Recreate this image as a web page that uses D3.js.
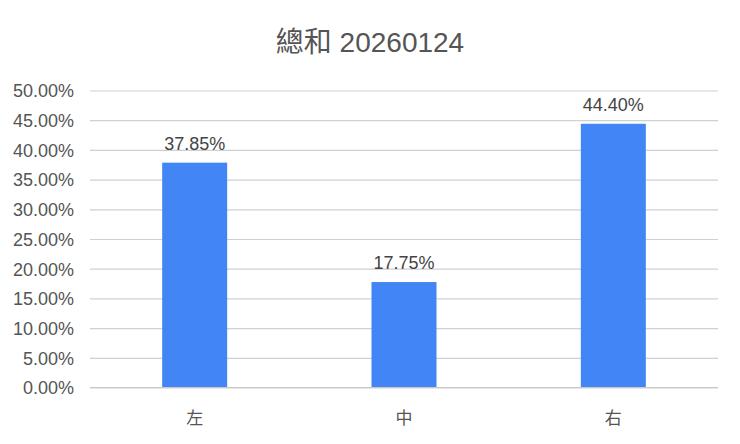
<!DOCTYPE html>
<html>
<head>
<meta charset="utf-8">
<script src="https://cdn.jsdelivr.net/npm/d3@7"></script>
<style>
html,body{margin:0;padding:0;background:#fff;}
text{font-family:"Liberation Sans",Arial,"Noto Sans CJK TC",sans-serif;}
</style>
</head>
<body>
<svg id="chart" width="740" height="444"></svg>
<script>
const title = "總和 20260124";
const categories = ["左", "中", "右"];
const values = [37.85, 17.75, 44.40];
const yTicks = [0, 5, 10, 15, 20, 25, 30, 35, 40, 45, 50];

const svg = d3.select("#chart");
const W = 740, H = 444;
const m = {left: 90, right: 22, top: 90.5, bottom: 56.5};

const x = d3.scaleBand().domain(categories).range([m.left, W - m.right])
  .paddingInner(1 - 65 / 209.33).paddingOuter((1 - 65 / 209.33) / 2);
const y = d3.scaleLinear().domain([0, 50]).range([H - m.bottom, m.top]);

svg.append("rect").attr("width", W).attr("height", H).attr("fill", "#fff");

svg.append("text").attr("x", 370).attr("y", 52).attr("text-anchor", "middle")
  .attr("font-size", 28).attr("fill", "#555")
  .style("font-family", "'Liberation Sans','Noto Sans CJK TC',sans-serif").text(title);

// grid
const grid = svg.append("g").attr("transform", `translate(${m.left},0)`)
  .call(d3.axisLeft(y).tickValues(yTicks).tickSize(-(W - m.left - m.right)).tickFormat(""));
grid.select(".domain").remove();
grid.selectAll("line").attr("stroke", "#d0d0d0").attr("stroke-width", 1.2);

// y labels
const yAxis = svg.append("g").attr("transform", `translate(74,0)`)
  .call(d3.axisLeft(y).tickValues(yTicks).tickSize(0).tickPadding(0).tickFormat(d => d.toFixed(2) + "%"));
yAxis.select(".domain").remove();
yAxis.selectAll("text").attr("font-size", 18).attr("fill", "#555").attr("dy", "0.35em")
  .style("font-family", "'Liberation Sans',Arial,sans-serif");

// bars
svg.append("g").selectAll("rect").data(values).join("rect")
  .attr("x", (d, i) => x(categories[i]))
  .attr("y", d => y(d))
  .attr("width", x.bandwidth())
  .attr("height", d => y(0) - y(d))
  .attr("fill", "#4285F4");

// baseline
svg.append("line").attr("x1", m.left).attr("x2", W - m.right)
  .attr("y1", y(0)).attr("y2", y(0)).attr("stroke", "#c8c8c8").attr("stroke-width", 1.2);

// value labels
svg.append("g").selectAll("text").data(values).join("text")
  .attr("x", (d, i) => x(categories[i]) + x.bandwidth() / 2)
  .attr("y", d => y(d) - 13)
  .attr("text-anchor", "middle").attr("font-size", 18).attr("fill", "#444")
  .style("font-family", "'Liberation Sans',Arial,sans-serif")
  .text(d => d.toFixed(2) + "%");

// x labels
const xAxis = svg.append("g").attr("transform", `translate(0,${y(0)})`)
  .call(d3.axisBottom(x).tickSize(0).tickPadding(0));
xAxis.select(".domain").remove();
xAxis.selectAll("text").attr("font-size", 17).attr("fill", "#555").attr("dy", "0")
  .attr("y", 36).style("font-family", "'Noto Sans CJK TC',sans-serif");
</script>
</body>
</html>
